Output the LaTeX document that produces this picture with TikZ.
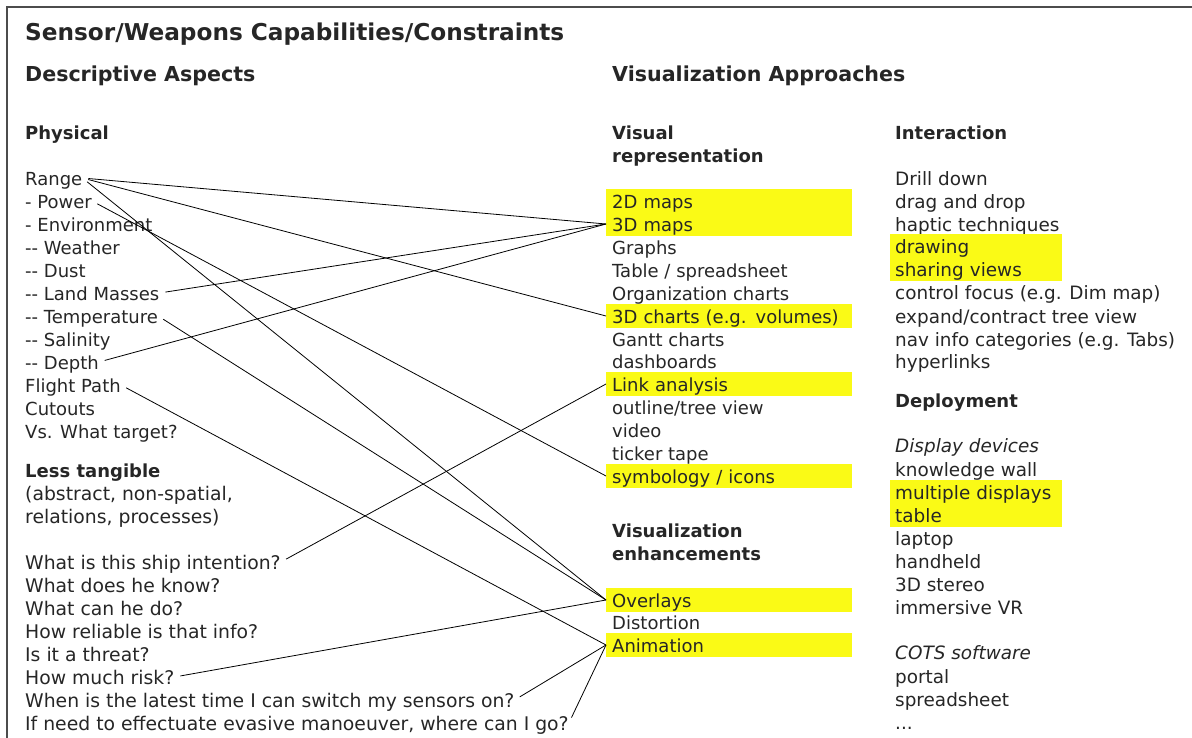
\documentclass[tikz,border=0pt]{standalone}
\usepackage{fontspec}
\setmainfont{DejaVu Sans}
\usetikzlibrary{positioning}
\definecolor{hilite}{RGB}{250,250,22}
\definecolor{ink}{RGB}{38,38,38}
\newcommand\dd{-\kern0pt-}
\tikzset{
  item/.style={anchor=west, inner xsep=0pt, inner ysep=0pt, text=ink, font=\fontsize{18}{22}\selectfont, text height=16pt, text depth=1pt},
  ask/.style={item, font=\fontsize{18.8}{22}\selectfont},
  head/.style={item, font=\bfseries\fontsize{18}{22}\selectfont},
  big/.style={item, font=\bfseries\fontsize{20.6}{24}\selectfont},
  mid/.style={item, inner xsep=6pt},
  hl/.style={mid, fill=hilite, minimum height=23.5pt, text width=234pt},
  rgt/.style={item, inner xsep=5pt, font=\fontsize{18.4}{22}\selectfont},
  hlr/.style={rgt, fill=hilite, minimum height=23.5pt, text width=162pt},
  link/.style={line width=0.8pt, black, shorten <=6pt}
}
\begin{document}
\begin{tikzpicture}[x=1pt, y=-1pt]
  \useasboundingbox (0,0) rectangle (1192,738);
  \draw[line width=1.5pt, black!70] (7,738) -- (7,7) -- (1192,7);

  \node[item, font=\bfseries\fontsize{23.2}{26}\selectfont] (title) at (25,33) {Sensor/Weapons Capabilities/Constraints};
  \node[big] (desc) at (25,74) {Descriptive Aspects};
  \node[big] (vapp) at (612,74) {Visualization Approaches};

  \node[head] (phys) at (25,132) {Physical};
  \node[item] (range) at (25,178) {Range};
  \node[item] (power) at (25,201) {- Power};
  \node[item] (env) at (25,224) {- Environment};
  \node[item] (weather) at (25,247) {\dd{} Weather};
  \node[item] (dust) at (25,270) {\dd{} Dust};
  \node[item] (land) at (25,293) {\dd{} Land Masses};
  \node[item] (temp) at (25,316) {\dd{} Temperature};
  \node[item] (salin) at (25,339) {\dd{} Salinity};
  \node[item] (depth) at (25,362) {\dd{} Depth};
  \node[item] (flight) at (25,385) {Flight Path};
  \node[item] (cutouts) at (25,408) {Cutouts};
  \node[item] (vswhat) at (25,431) {Vs. What target?};

  \node[head] (less) at (25,470) {Less tangible};
  \node[ask] (abs1) at (25,493) {(abstract, non-spatial,};
  \node[ask] (abs2) at (25,516) {relations, processes)};
  \node[ask] (q1) at (25,562) {What is this ship intention?};
  \node[ask] (q2) at (25,585) {What does he know?};
  \node[ask] (q3) at (25,608) {What can he do?};
  \node[ask] (q4) at (25,631) {How reliable is that info?};
  \node[ask] (q5) at (25,654) {Is it a threat?};
  \node[ask] (q6) at (25,677) {How much risk?};
  \node[ask] (q7) at (25,700) {When is the latest time I can switch my sensors on?};
  \node[ask] (q8) at (25,723) {If need to effectuate evasive manoeuver, where can I go?};

  \node[head] (vis1) at (612,132) {Visual};
  \node[head] (vis2) at (612,155) {representation};
  \node[hl] (maps2) at (606,201) {2D maps};
  \node[hl] (maps3) at (606,224) {3D maps};
  \node[mid] (graphs) at (606,247) {Graphs};
  \node[mid] (table) at (606,270) {Table / spreadsheet};
  \node[mid] (org) at (606,293) {Organization charts};
  \node[hl] (charts3) at (606,316) {3D charts (e.g. volumes)};
  \node[mid] (gantt) at (606,339) {Gantt charts};
  \node[mid] (dash) at (606,361) {dashboards};
  \node[hl] (linka) at (606,384) {Link analysis};
  \node[mid] (outline) at (606,407) {outline/tree view};
  \node[mid] (video) at (606,430) {video};
  \node[mid] (ticker) at (606,453) {ticker tape};
  \node[hl] (symb) at (606,476) {symbology / icons};
  \node[head] (venh1) at (612,530) {Visualization};
  \node[head] (venh2) at (612,553) {enhancements};
  \node[hl] (overlays) at (606,600) {Overlays};
  \node[mid] (distort) at (606,622) {Distortion};
  \node[hl] (anim) at (606,645) {Animation};

  \node[head] (inter) at (895,132) {Interaction};
  \node[rgt] (drill) at (890,178) {Drill down};
  \node[rgt] (drag) at (890,201) {drag and drop};
  \node[rgt] (haptic) at (890,224) {haptic techniques};
  \node[hlr] (drawing) at (890,246) {drawing};
  \node[hlr] (sharing) at (890,269) {sharing views};
  \node[rgt] (control) at (890,292) {control focus (e.g. Dim map)};
  \node[rgt] (expand) at (890,316) {expand/contract tree view};
  \node[rgt] (nav) at (890,339) {nav info categories (e.g. Tabs)};
  \node[rgt] (hyper) at (890,361) {hyperlinks};
  \node[head] (deploy) at (895,400) {Deployment};
  \node[rgt, font=\itshape\fontsize{18.4}{22}\selectfont] (devices) at (890,445) {Display devices};
  \node[rgt] (wall) at (890,469) {knowledge wall};
  \node[hlr] (multi) at (890,492) {multiple displays};
  \node[hlr] (tablex) at (890,515) {table};
  \node[rgt] (laptop) at (890,538) {laptop};
  \node[rgt] (handheld) at (890,561) {handheld};
  \node[rgt] (stereo) at (890,584) {3D stereo};
  \node[rgt] (vr) at (890,607) {immersive VR};
  \node[rgt, font=\itshape\fontsize{18.4}{22}\selectfont] (cots) at (890,652) {COTS software};
  \node[rgt] (portal) at (890,676) {portal};
  \node[rgt] (sheet) at (890,699) {spreadsheet};
  \node[rgt] (dots) at (890,722) {...};

  \foreach \from / \to in {range/maps3, range/charts3, range/overlays, power/symb, land/maps3, depth/maps3, temp/overlays, flight/anim, q1/linka, q6/overlays, q7/anim, q8/anim}
    \draw[link] (\from.east) -- (\to.west);
\end{tikzpicture}
\end{document}
